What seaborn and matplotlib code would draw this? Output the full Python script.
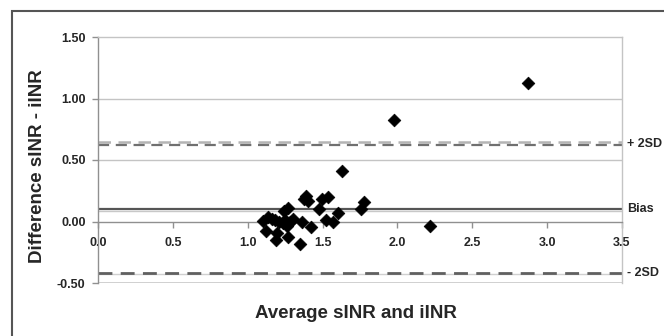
import numpy as np
import pandas as pd
import seaborn as sns
import matplotlib.pyplot as plt
import matplotlib.patches as mpatches
import matplotlib.transforms as mtransforms

# Bland-Altman data
avg_inr = [1.104, 1.122, 1.138, 1.160, 1.182, 1.189, 1.194, 1.211, 1.234, 1.243,
           1.249, 1.260, 1.271, 1.271, 1.282, 1.300, 1.349, 1.365, 1.376, 1.389,
           1.405, 1.423, 1.474, 1.494, 1.521, 1.534, 1.570, 1.601, 1.632, 1.755,
           1.777, 1.977, 2.218, 2.870]
diff_inr = [0.007, -0.075, 0.034, 0.020, 0.012, -0.150, -0.096, -0.001, -0.015, 0.085,
            0.012, -0.037, 0.107, -0.124, -0.001, 0.018, -0.185, -0.001, 0.183, 0.207,
            0.167, -0.047, 0.102, 0.180, 0.012, 0.202, -0.001, 0.072, 0.411, 0.099,
            0.156, 0.825, -0.034, 1.128]

bias = 0.10
upper_sd = 0.63
lower_sd = -0.42
limit_labels = ["+ 2SD", "Bias", "- 2SD"]

x_ticks = [0.0, 0.5, 1.0, 1.5, 2.0, 2.5, 3.0, 3.5]
y_ticks = [-0.50, 0.00, 0.50, 1.00, 1.50]

df = pd.DataFrame({"avg": avg_inr, "diff": diff_inr})

sns.set_style("white")
plt.rcParams["font.family"] = ["Liberation Sans", "DejaVu Sans"]
plt.rcParams["font.weight"] = "bold"

fig = plt.figure(figsize=(6.64, 3.36), dpi=100)
ax = fig.add_axes([98 / 664, 53 / 336, 524 / 664, 246 / 336])

# grid lines and frame
for yv in [0.5, 1.0]:
    ax.axhline(yv, color="#c4c4c4", lw=1.0, zorder=1)
ax.axhline(-0.5, color="#c8c8c8", lw=1.2, zorder=1)

# limit lines
ax.axhline(upper_sd + 0.015, color="#b4b4b4", lw=1.8, ls=(0, (5, 3)), zorder=2)
ax.axhline(upper_sd - 0.005, color="#707070", lw=1.6, ls=(0, (5, 3)), zorder=2)
ax.axhline(lower_sd - 0.01, color="#d0d0d0", lw=1.0, zorder=2)
ax.axhline(lower_sd, color="#606060", lw=2.0, ls=(0, (5, 3)), zorder=2)
ax.axhline(bias - 0.012, color="#c8c8c8", lw=1.0, zorder=2)
ax.axhline(bias, color="#555555", lw=1.6, zorder=2)

sns.scatterplot(data=df, x="avg", y="diff", marker="D", color="black",
                s=42, edgecolor="black", linewidth=0.5, ax=ax, zorder=4)

ax.set_xlim(0, 3.5)
ax.set_ylim(-0.5, 1.5)
ax.set_xticks(x_ticks)
ax.set_xticklabels([f"{v:.1f}" for v in x_ticks])
ax.set_yticks(y_ticks)
ax.set_yticklabels([f"{v:.2f}" for v in y_ticks])

ax.spines["bottom"].set_position(("data", 0))
ax.spines["bottom"].set_color("#909090")
ax.spines["left"].set_color("#909090")
ax.spines["top"].set_color("#c4c4c4")
ax.spines["right"].set_color("#c4c4c4")
for s in ax.spines.values():
    s.set_linewidth(1.0)

ax.tick_params(axis="x", direction="out", length=4, width=1, color="#909090",
               pad=7, labelsize=9)
ax.tick_params(axis="y", direction="out", length=4, width=1, color="#909090",
               pad=5, labelsize=9)
ax.xaxis.set_ticks_position("bottom")
ax.yaxis.set_ticks_position("left")

ax.set_xlabel("")
ax.set_ylabel("")
fig.text(37.5 / 664, 1 - 166 / 336, "Difference sINR - iINR", ha="center", va="center",
         rotation=90, fontsize=13.5, fontweight="bold")
fig.text(356 / 664, 1 - 313 / 336, "Average sINR and iINR", ha="center", va="center",
         fontsize=13.5, fontweight="bold")

trans = mtransforms.blended_transform_factory(ax.transAxes, ax.transData)
for lab, yv in zip(limit_labels, [upper_sd, bias, lower_sd]):
    ax.text(1.01, yv, lab, transform=trans, ha="left", va="center",
            fontsize=9, fontweight="bold")

# outer frame of the original figure
fig.patches.append(mpatches.Rectangle((12 / 664, -0.2), 1.2, 1 - 11 / 336 + 0.2,
                                      transform=fig.transFigure, fill=False,
                                      edgecolor="#555555", lw=1.5))

fig.savefig("out.png", dpi=100)
